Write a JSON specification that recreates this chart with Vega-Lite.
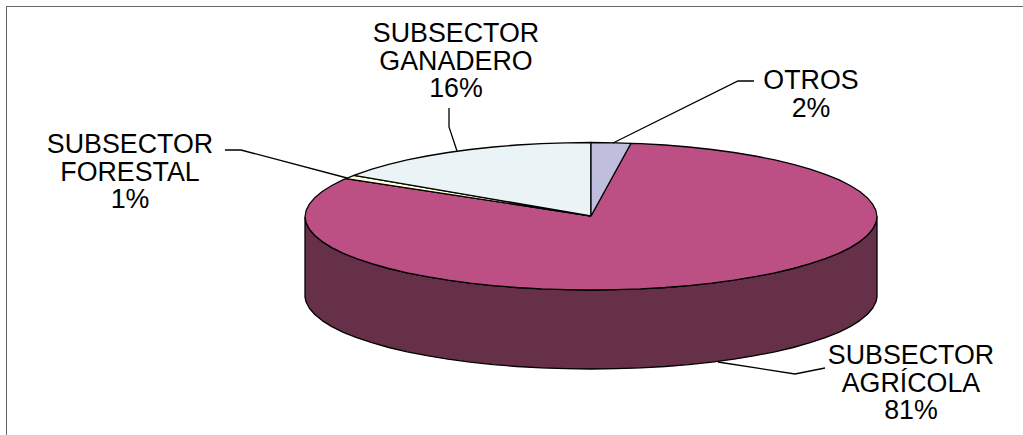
{"$schema":"https://vega.github.io/schema/vega-lite/v6.json","width":1023,"height":435,"autosize":"none","padding":0,"background":"white","view":{"stroke":null},
"datasets":{"slices":[
{"p":"a_lado","i":1,"x":305,"y":217},{"p":"a_lado","i":2,"x":306.1,"y":222.9},{"p":"a_lado","i":3,"x":309.4,"y":229.3},{"p":"a_lado","i":4,"x":314.8,"y":235.5},{"p":"a_lado","i":5,"x":322.2,"y":241.6},{"p":"a_lado","i":6,"x":331.8,"y":247.6},{"p":"a_lado","i":7,"x":343.3,"y":253.3},{"p":"a_lado","i":8,"x":356.7,"y":258.7},{"p":"a_lado","i":9,"x":371.9,"y":263.7},{"p":"a_lado","i":10,"x":388.8,"y":268.5},{"p":"a_lado","i":11,"x":407.2,"y":272.8},{"p":"a_lado","i":12,"x":427,"y":276.7},{"p":"a_lado","i":13,"x":448,"y":280.2},{"p":"a_lado","i":14,"x":470.1,"y":283.1},{"p":"a_lado","i":15,"x":493.2,"y":285.6},{"p":"a_lado","i":16,"x":517,"y":287.5},{"p":"a_lado","i":17,"x":541.4,"y":288.9},{"p":"a_lado","i":18,"x":566.1,"y":289.7},{"p":"a_lado","i":19,"x":591,"y":290},{"p":"a_lado","i":20,"x":615.9,"y":289.7},{"p":"a_lado","i":21,"x":640.6,"y":288.9},{"p":"a_lado","i":22,"x":665,"y":287.5},{"p":"a_lado","i":23,"x":688.8,"y":285.6},{"p":"a_lado","i":24,"x":711.9,"y":283.1},{"p":"a_lado","i":25,"x":734,"y":280.2},{"p":"a_lado","i":26,"x":755,"y":276.7},{"p":"a_lado","i":27,"x":774.8,"y":272.8},{"p":"a_lado","i":28,"x":793.2,"y":268.5},{"p":"a_lado","i":29,"x":810.1,"y":263.7},{"p":"a_lado","i":30,"x":825.3,"y":258.7},{"p":"a_lado","i":31,"x":838.7,"y":253.3},{"p":"a_lado","i":32,"x":850.2,"y":247.6},{"p":"a_lado","i":33,"x":859.8,"y":241.6},{"p":"a_lado","i":34,"x":867.2,"y":235.5},{"p":"a_lado","i":35,"x":872.6,"y":229.3},{"p":"a_lado","i":36,"x":875.9,"y":222.9},{"p":"a_lado","i":37,"x":877,"y":217},
{"p":"a_lado","i":38,"x":877,"y":297},{"p":"a_lado","i":39,"x":875.9,"y":302},{"p":"a_lado","i":40,"x":872.6,"y":308.3},{"p":"a_lado","i":41,"x":867.2,"y":314.5},{"p":"a_lado","i":42,"x":859.8,"y":320.6},{"p":"a_lado","i":43,"x":850.2,"y":326.6},{"p":"a_lado","i":44,"x":838.7,"y":332.3},{"p":"a_lado","i":45,"x":825.3,"y":337.7},{"p":"a_lado","i":46,"x":810.1,"y":342.7},{"p":"a_lado","i":47,"x":793.2,"y":347.5},{"p":"a_lado","i":48,"x":774.8,"y":351.8},{"p":"a_lado","i":49,"x":755,"y":355.7},{"p":"a_lado","i":50,"x":734,"y":359.2},{"p":"a_lado","i":51,"x":711.9,"y":362.1},{"p":"a_lado","i":52,"x":688.8,"y":364.6},{"p":"a_lado","i":53,"x":665,"y":366.5},{"p":"a_lado","i":54,"x":640.6,"y":367.9},{"p":"a_lado","i":55,"x":615.9,"y":368.7},{"p":"a_lado","i":56,"x":591,"y":369},{"p":"a_lado","i":57,"x":566.1,"y":368.7},{"p":"a_lado","i":58,"x":541.4,"y":367.9},{"p":"a_lado","i":59,"x":517,"y":366.5},{"p":"a_lado","i":60,"x":493.2,"y":364.6},{"p":"a_lado","i":61,"x":470.1,"y":362.1},{"p":"a_lado","i":62,"x":448,"y":359.2},{"p":"a_lado","i":63,"x":427,"y":355.7},{"p":"a_lado","i":64,"x":407.2,"y":351.8},{"p":"a_lado","i":65,"x":388.8,"y":347.5},{"p":"a_lado","i":66,"x":371.9,"y":342.7},{"p":"a_lado","i":67,"x":356.7,"y":337.7},{"p":"a_lado","i":68,"x":343.3,"y":332.3},{"p":"a_lado","i":69,"x":331.8,"y":326.6},{"p":"a_lado","i":70,"x":322.2,"y":320.6},{"p":"a_lado","i":71,"x":314.8,"y":314.5},{"p":"a_lado","i":72,"x":309.4,"y":308.3},{"p":"a_lado","i":73,"x":306.1,"y":302},{"p":"a_lado","i":74,"x":305,"y":297},{"p":"a_lado","i":75,"x":305,"y":217},
{"p":"b_agricola","i":1,"x":591,"y":216},{"p":"b_agricola","i":2,"x":631,"y":143.3},{"p":"b_agricola","i":3,"x":640.6,"y":143.6},{"p":"b_agricola","i":4,"x":665,"y":145},{"p":"b_agricola","i":5,"x":688.8,"y":147},{"p":"b_agricola","i":6,"x":711.9,"y":149.5},{"p":"b_agricola","i":7,"x":734,"y":152.5},{"p":"b_agricola","i":8,"x":755,"y":156},{"p":"b_agricola","i":9,"x":774.8,"y":159.9},{"p":"b_agricola","i":10,"x":793.2,"y":164.3},{"p":"b_agricola","i":11,"x":810.1,"y":169.1},{"p":"b_agricola","i":12,"x":825.3,"y":174.3},{"p":"b_agricola","i":13,"x":838.7,"y":179.7},{"p":"b_agricola","i":14,"x":850.2,"y":185.5},{"p":"b_agricola","i":15,"x":859.8,"y":191.5},{"p":"b_agricola","i":16,"x":867.2,"y":197.7},{"p":"b_agricola","i":17,"x":872.6,"y":204.1},{"p":"b_agricola","i":18,"x":875.9,"y":210.5},{"p":"b_agricola","i":19,"x":877,"y":217},{"p":"b_agricola","i":20,"x":875.9,"y":222.9},{"p":"b_agricola","i":21,"x":872.6,"y":229.3},{"p":"b_agricola","i":22,"x":867.2,"y":235.5},{"p":"b_agricola","i":23,"x":859.8,"y":241.6},{"p":"b_agricola","i":24,"x":850.2,"y":247.6},{"p":"b_agricola","i":25,"x":838.7,"y":253.3},{"p":"b_agricola","i":26,"x":825.3,"y":258.7},{"p":"b_agricola","i":27,"x":810.1,"y":263.7},{"p":"b_agricola","i":28,"x":793.2,"y":268.5},{"p":"b_agricola","i":29,"x":774.8,"y":272.8},{"p":"b_agricola","i":30,"x":755,"y":276.7},{"p":"b_agricola","i":31,"x":734,"y":280.2},{"p":"b_agricola","i":32,"x":711.9,"y":283.1},{"p":"b_agricola","i":33,"x":688.8,"y":285.6},{"p":"b_agricola","i":34,"x":665,"y":287.5},{"p":"b_agricola","i":35,"x":640.6,"y":288.9},{"p":"b_agricola","i":36,"x":615.9,"y":289.7},{"p":"b_agricola","i":37,"x":591,"y":290},{"p":"b_agricola","i":38,"x":566.1,"y":289.7},{"p":"b_agricola","i":39,"x":541.4,"y":288.9},{"p":"b_agricola","i":40,"x":517,"y":287.5},{"p":"b_agricola","i":41,"x":493.2,"y":285.6},{"p":"b_agricola","i":42,"x":470.1,"y":283.1},{"p":"b_agricola","i":43,"x":448,"y":280.2},{"p":"b_agricola","i":44,"x":427,"y":276.7},{"p":"b_agricola","i":45,"x":407.2,"y":272.8},{"p":"b_agricola","i":46,"x":388.8,"y":268.5},{"p":"b_agricola","i":47,"x":371.9,"y":263.7},{"p":"b_agricola","i":48,"x":356.7,"y":258.7},{"p":"b_agricola","i":49,"x":343.3,"y":253.3},{"p":"b_agricola","i":50,"x":331.8,"y":247.6},{"p":"b_agricola","i":51,"x":322.2,"y":241.6},{"p":"b_agricola","i":52,"x":314.8,"y":235.5},{"p":"b_agricola","i":53,"x":309.4,"y":229.3},{"p":"b_agricola","i":54,"x":306.1,"y":222.9},{"p":"b_agricola","i":55,"x":305,"y":217},{"p":"b_agricola","i":56,"x":306.1,"y":210.5},{"p":"b_agricola","i":57,"x":309.4,"y":204.1},{"p":"b_agricola","i":58,"x":314.8,"y":197.7},{"p":"b_agricola","i":59,"x":322.2,"y":191.5},{"p":"b_agricola","i":60,"x":331.8,"y":185.5},{"p":"b_agricola","i":61,"x":343.3,"y":179.7},{"p":"b_agricola","i":62,"x":346,"y":178.6},{"p":"b_agricola","i":63,"x":591,"y":216},
{"p":"c_forestal","i":1,"x":591,"y":216},{"p":"c_forestal","i":2,"x":346,"y":178.6},{"p":"c_forestal","i":3,"x":354,"y":175.4},{"p":"c_forestal","i":4,"x":591,"y":216},
{"p":"d_ganadero","i":1,"x":591,"y":216},{"p":"d_ganadero","i":2,"x":354,"y":175.4},{"p":"d_ganadero","i":3,"x":356.7,"y":174.3},{"p":"d_ganadero","i":4,"x":371.9,"y":169.1},{"p":"d_ganadero","i":5,"x":388.8,"y":164.3},{"p":"d_ganadero","i":6,"x":407.2,"y":159.9},{"p":"d_ganadero","i":7,"x":427,"y":156},{"p":"d_ganadero","i":8,"x":448,"y":152.5},{"p":"d_ganadero","i":9,"x":470.1,"y":149.5},{"p":"d_ganadero","i":10,"x":493.2,"y":147},{"p":"d_ganadero","i":11,"x":517,"y":145},{"p":"d_ganadero","i":12,"x":541.4,"y":143.6},{"p":"d_ganadero","i":13,"x":566.1,"y":142.8},{"p":"d_ganadero","i":14,"x":591,"y":142.5},{"p":"d_ganadero","i":15,"x":591,"y":216},
{"p":"e_otros","i":1,"x":591,"y":216},{"p":"e_otros","i":2,"x":591,"y":142.5},{"p":"e_otros","i":3,"x":615.9,"y":142.8},{"p":"e_otros","i":4,"x":631,"y":143.3},{"p":"e_otros","i":5,"x":591,"y":216}
],
"leaders":[
{"l":"forestal","i":1,"x":225,"y":150},{"l":"forestal","i":2,"x":241,"y":150},{"l":"forestal","i":3,"x":347,"y":178},
{"l":"ganadero","i":1,"x":449,"y":108},{"l":"ganadero","i":2,"x":449,"y":127},{"l":"ganadero","i":3,"x":457,"y":151},
{"l":"otros","i":1,"x":754,"y":81},{"l":"otros","i":2,"x":738,"y":81},{"l":"otros","i":3,"x":613,"y":143},
{"l":"agricola","i":1,"x":825,"y":368},{"l":"agricola","i":2,"x":795,"y":374},{"l":"agricola","i":3,"x":718,"y":362}
],
"frame":[{"l":"top","i":1,"x":6,"y":6.5},{"l":"top","i":2,"x":1023,"y":6.5},{"l":"left","i":1,"x":6.5,"y":6},{"l":"left","i":2,"x":6.5,"y":435}],
"labels":[
{"t":"SUBSECTOR\nFORESTAL\n1%","x":130,"y":145},
{"t":"SUBSECTOR\nGANADERO\n16%","x":456,"y":34},
{"t":"OTROS\n2%","x":811,"y":81},
{"t":"SUBSECTOR\nAGRÍCOLA\n81%","x":911,"y":356}
]},
"data":{"name":"slices"},
"encoding":{"x":{"field":"x","type":"quantitative","scale":{"domain":[0,1023],"nice":false,"zero":false},"axis":null},"y":{"field":"y","type":"quantitative","scale":{"domain":[435,0],"nice":false,"zero":false},"axis":null}},
"layer":[
{"mark":{"type":"line","stroke":"#000000","strokeWidth":1.3,"strokeJoin":"round","clip":false},"encoding":{"order":{"field":"i","type":"quantitative"},"fill":{"field":"p","type":"nominal","legend":null,"scale":{"domain":["a_lado","b_agricola","c_forestal","d_ganadero","e_otros"],"range":["#663048","#BC5085","#FFFFDC","#EAF3F5","#C0BEDD"]}}}},
{"data":{"name":"leaders"},"mark":{"type":"line","stroke":"#000000","strokeWidth":1.3},"encoding":{"detail":{"field":"l"},"order":{"field":"i","type":"quantitative"}}},
{"data":{"name":"frame"},"mark":{"type":"line","stroke":"#666666","strokeWidth":1},"encoding":{"detail":{"field":"l"},"order":{"field":"i","type":"quantitative"}}},
{"data":{"name":"labels"},"mark":{"type":"text","font":"Liberation Sans","fontSize":26.8,"lineHeight":27.5,"lineBreak":"\n","fill":"#000000","align":"center","baseline":"middle"},"encoding":{"text":{"field":"t"}}}
]}
